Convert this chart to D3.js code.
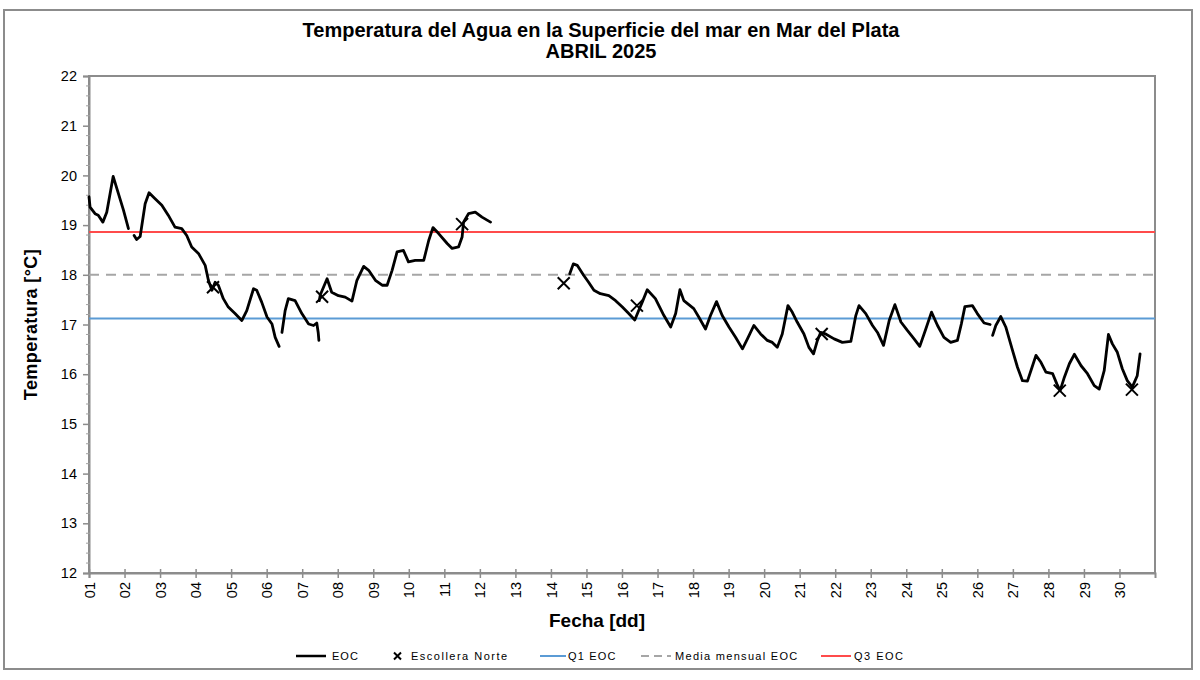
<!DOCTYPE html>
<html>
<head>
<meta charset="utf-8">
<script src="https://cdn.jsdelivr.net/npm/d3@7"></script>
<style>
  body { margin: 0; background: #fff; }
  svg { display: block; font-family: "Liberation Sans", Arial, sans-serif; }
  .narrow { font-family: "Liberation Sans Narrow", "Liberation Sans", sans-serif; }
</style>
</head>
<body>
<svg width="1200" height="680"></svg>
<script>
// EOC series, split where the record has gaps: [day, temp °C]
const eocSegments = [
  [[1.0,19.57],[1.03,19.36],[1.17,19.23],[1.26,19.2],[1.39,19.06],[1.5,19.26],[1.68,19.98],[1.83,19.63],[1.97,19.3],[2.11,18.93]],
  [[2.27,18.79],[2.34,18.71],[2.44,18.77],[2.58,19.43],[2.69,19.65],[2.86,19.53],[3.05,19.4],[3.23,19.2],[3.42,18.96],[3.61,18.93],
   [3.75,18.79],[3.89,18.56],[4.08,18.43],[4.27,18.19],[4.36,17.89],[4.46,17.69],[4.55,17.85],[4.64,17.79],[4.78,17.52],[4.92,17.35],
   [5.11,17.22],[5.3,17.08],[5.44,17.28],[5.63,17.72],[5.72,17.69],[5.86,17.45],[6.01,17.15],[6.15,17.01],[6.24,16.74],[6.35,16.56]],
  [[6.43,16.84],[6.52,17.28],[6.61,17.52],[6.8,17.48],[6.99,17.22],[7.18,17.01],[7.32,16.98],[7.41,17.03],[7.45,16.84],[7.47,16.68]],
  [[7.48,17.48],[7.51,17.6],[7.7,17.92],[7.83,17.65],[8.02,17.58],[8.21,17.55],[8.4,17.47],[8.54,17.89],[8.73,18.17],[8.87,18.09],
   [9.06,17.89],[9.25,17.79],[9.39,17.79],[9.53,18.09],[9.67,18.46],[9.85,18.49],[9.99,18.26],[10.18,18.29],[10.42,18.29],[10.56,18.69],
   [10.68,18.95],[10.84,18.83],[11.08,18.63],[11.22,18.53],[11.4,18.56],[11.5,18.76],[11.54,19.06],[11.68,19.23],[11.87,19.26],[12.06,19.16],[12.3,19.06]],
  [[14.53,18.02],[14.63,18.22],[14.74,18.19],[14.92,17.99],[15.06,17.85],[15.21,17.69],[15.39,17.62],[15.63,17.58],[15.82,17.48],[16.01,17.35],
   [16.19,17.22],[16.36,17.09],[16.47,17.28],[16.57,17.45],[16.71,17.7],[16.94,17.52],[17.18,17.18],[17.37,16.95],[17.51,17.22],[17.63,17.7],
   [17.74,17.48],[18.02,17.32],[18.16,17.15],[18.35,16.91],[18.49,17.18],[18.66,17.46],[18.82,17.18],[19.01,16.95],[19.2,16.74],[19.39,16.51],
   [19.53,16.71],[19.71,16.98],[19.9,16.81],[20.09,16.68],[20.23,16.64],[20.37,16.54],[20.51,16.81],[20.67,17.38],[20.79,17.25],[20.93,17.05],
   [21.12,16.81],[21.26,16.54],[21.39,16.41],[21.5,16.68],[21.59,16.84],[21.73,16.81],[21.97,16.71],[22.2,16.64],[22.44,16.66],[22.58,17.18],
   [22.67,17.38],[22.86,17.22],[23.05,16.98],[23.19,16.84],[23.36,16.58],[23.52,17.08],[23.68,17.4],[23.85,17.05],[24.03,16.88],[24.22,16.71],
   [24.38,16.56],[24.55,16.91],[24.71,17.25],[24.88,16.98],[25.06,16.74],[25.25,16.64],[25.44,16.68],[25.55,17.01],[25.65,17.36],[25.86,17.38],
   [26.0,17.22],[26.19,17.03],[26.36,17.0]],
  [[26.43,16.78],[26.52,16.98],[26.66,17.16],[26.8,16.95],[26.99,16.48],[27.13,16.14],[27.27,15.87],[27.41,15.86],[27.54,16.14],[27.65,16.38],
   [27.79,16.24],[27.93,16.04],[28.12,16.01],[28.24,15.8],[28.33,15.67],[28.45,15.94],[28.59,16.21],[28.73,16.4],[28.92,16.17],[29.1,16.01],
   [29.29,15.77],[29.43,15.7],[29.57,16.07],[29.69,16.8],[29.8,16.61],[29.94,16.44],[30.08,16.11],[30.22,15.87],[30.36,15.74],[30.5,15.97],[30.58,16.41]]
]

// Escollera Norte spot readings
const escolleraDay = [4.49, 7.56, 11.5, 14.36, 16.42, 21.62, 28.32, 30.35]
const escolleraTemp = [17.75, 17.56, 19.02, 17.83, 17.38, 16.81, 15.67, 15.69]

// reference levels
const q1 = 17.12
const mediaMensual = 18.0
const q3 = 18.86

const dayTicks = d3.range(1, 31)
const tempTicks = d3.range(12, 23)

const svg = d3.select('svg')

// outer chart border
svg.append('rect')
  .attr('x', 4).attr('y', 10).attr('width', 1188).attr('height', 659)
  .attr('fill', 'none').attr('stroke', '#8c8c8c').attr('stroke-width', 2)

const x = d3.scaleLinear().domain([1, 31]).range([89, 1155])
const y = d3.scaleLinear().domain([12, 22]).range([573, 76])

// titles
const title = svg.append('text').attr('class', 'narrow')
  .attr('text-anchor', 'middle').attr('font-weight', 'bold').attr('font-size', 20)
title.append('tspan').attr('x', 601).attr('y', 37)
  .text('Temperatura del Agua en la Superficie del mar en Mar del Plata')
title.append('tspan').attr('x', 601).attr('y', 58).text('ABRIL 2025')

// plot frame
svg.append('rect')
  .attr('x', x(1)).attr('y', y(22))
  .attr('width', x(31) - x(1)).attr('height', y(12) - y(22))
  .attr('fill', 'none').attr('stroke', '#8c8c8c').attr('stroke-width', 2)

// y axis
const yAxis = svg.append('g')
  .attr('transform', `translate(${x(1)},0)`)
  .call(d3.axisLeft(y).tickValues(tempTicks).tickSize(6).tickPadding(6).tickFormat(d3.format('d')))
yAxis.select('.domain').attr('stroke', '#8c8c8c').attr('stroke-width', 2)
yAxis.selectAll('.tick line').attr('stroke', '#8c8c8c').attr('stroke-width', 1.5).attr('x2', -6)
yAxis.selectAll('.tick text').attr('font-size', 14.5).attr('fill', '#000')

// y minor ticks
svg.append('g').selectAll('line')
  .data(d3.range(12, 22.01, 0.2).filter(v => Math.abs(v - Math.round(v)) > 0.01))
  .join('line')
  .attr('x1', x(1) - 3).attr('x2', x(1) + 1)
  .attr('y1', d => y(d)).attr('y2', d => y(d))
  .attr('stroke', '#a0a0a0').attr('stroke-width', 1)

// x axis
const xAxis = svg.append('g')
  .attr('transform', `translate(0,${y(12)})`)
  .call(d3.axisBottom(x).tickValues(dayTicks).tickSize(5).tickFormat(d3.format('02d')))
xAxis.select('.domain').attr('stroke', '#8c8c8c').attr('stroke-width', 2)
xAxis.selectAll('.tick line').attr('stroke', '#8c8c8c').attr('stroke-width', 1.5).attr('y1', -4)
xAxis.selectAll('.tick text')
  .attr('font-size', 14.5).attr('fill', '#000')
  .attr('transform', 'rotate(-90)')
  .attr('text-anchor', 'end')
  .attr('x', -9).attr('y', 0).attr('dy', '0.35em')

// axis titles
svg.append('text')
  .attr('transform', `translate(37,${(y(12) + y(22)) / 2}) rotate(-90)`)
  .attr('text-anchor', 'middle').attr('font-weight', 'bold').attr('font-size', 18)
  .attr('letter-spacing', 0.4)
  .text('Temperatura [°C]')
svg.append('text')
  .attr('x', 597).attr('y', 627)
  .attr('text-anchor', 'middle').attr('font-weight', 'bold').attr('font-size', 19)
  .text('Fecha [dd]')

// reference lines
const refs = [
  { v: q1, color: '#5b9bd5', dash: null },
  { v: mediaMensual, color: '#a6a6a6', dash: '10,7' },
  { v: q3, color: '#ff4b4b', dash: null }
]
svg.append('g').selectAll('line')
  .data(refs)
  .join('line')
  .attr('x1', x(1)).attr('x2', x(31))
  .attr('y1', d => y(d.v)).attr('y2', d => y(d.v))
  .attr('stroke', d => d.color).attr('stroke-width', 2)
  .attr('stroke-dasharray', d => d.dash)

// EOC line
const line = d3.line().x(d => x(d[0])).y(d => y(d[1]))
svg.append('g').selectAll('path')
  .data(eocSegments)
  .join('path')
  .attr('d', line)
  .attr('fill', 'none').attr('stroke', '#000').attr('stroke-width', 2.8)
  .attr('stroke-linejoin', 'round').attr('stroke-linecap', 'round')

// Escollera Norte crosses
const s = 6
svg.append('g').selectAll('path')
  .data(escolleraDay.map((d, i) => [d, escolleraTemp[i]]))
  .join('path')
  .attr('d', d => `M${x(d[0]) - s},${y(d[1]) - s}L${x(d[0]) + s},${y(d[1]) + s}M${x(d[0]) - s},${y(d[1]) + s}L${x(d[0]) + s},${y(d[1]) - s}`)
  .attr('stroke', '#000').attr('stroke-width', 2)

// legend
const ly = 656
const legend = svg.append('g').attr('font-size', 11).attr('fill', '#000')
legend.append('line').attr('x1', 296).attr('x2', 326).attr('y1', ly).attr('y2', ly)
  .attr('stroke', '#000').attr('stroke-width', 2.5)
legend.append('text').attr('x', 332).attr('y', ly + 4).attr('letter-spacing', 1).text('EOC')
legend.append('path')
  .attr('d', `M394,${ly - 3.5}L401,${ly + 3.5}M394,${ly + 3.5}L401,${ly - 3.5}`)
  .attr('stroke', '#000').attr('stroke-width', 2)
legend.append('text').attr('x', 411).attr('y', ly + 4).attr('letter-spacing', 1.5).text('Escollera Norte')
legend.append('line').attr('x1', 540).attr('x2', 566).attr('y1', ly).attr('y2', ly)
  .attr('stroke', '#5b9bd5').attr('stroke-width', 2)
legend.append('text').attr('x', 568).attr('y', ly + 4).attr('letter-spacing', 1.2).text('Q1 EOC')
legend.append('line').attr('x1', 641).attr('x2', 671).attr('y1', ly).attr('y2', ly)
  .attr('stroke', '#a6a6a6').attr('stroke-width', 2).attr('stroke-dasharray', '8,5')
legend.append('text').attr('x', 675).attr('y', ly + 4).attr('letter-spacing', 1.3).text('Media mensual EOC')
legend.append('line').attr('x1', 821).attr('x2', 851).attr('y1', ly).attr('y2', ly)
  .attr('stroke', '#ff4b4b').attr('stroke-width', 2)
legend.append('text').attr('x', 854).attr('y', ly + 4).attr('letter-spacing', 1.5).text('Q3 EOC')
</script>
</body>
</html>
